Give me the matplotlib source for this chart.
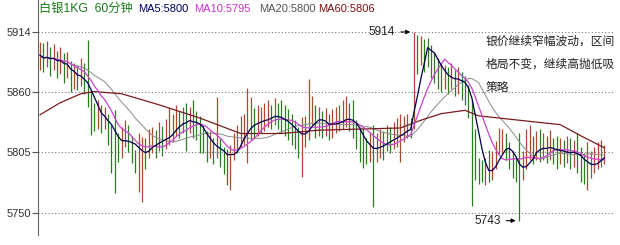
import numpy as np
import pandas as pd
import matplotlib
matplotlib.use("Agg")
import matplotlib.pyplot as plt

plt.rcParams['font.family'] = ['Liberation Sans', 'Noto Sans CJK SC', 'DejaVu Sans']

# 60分钟K线 (收盘/最高/最低)，开盘取前一根收盘
close = [5893, 5888, 5892, 5887, 5890, 5884, 5887, 5880, 5883, 5868,
         5874, 5870, 5876, 5868, 5852, 5843, 5835, 5840, 5834, 5836,
         5823, 5818, 5812, 5807, 5818, 5822, 5816, 5806, 5800, 5803,
         5808, 5806, 5813, 5816, 5813, 5818, 5815, 5821, 5824, 5826,
         5838, 5831, 5834, 5830, 5836, 5832, 5829, 5826, 5815, 5808,
         5812, 5807, 5811, 5804, 5798, 5795, 5806, 5812, 5816, 5824,
         5828, 5830, 5835, 5830, 5832, 5835, 5836, 5839, 5837, 5840,
         5835, 5832, 5830, 5828, 5826, 5820, 5816, 5818, 5828, 5838,
         5842, 5830, 5833, 5829, 5832, 5828, 5831, 5833, 5834, 5836,
         5839, 5833, 5828, 5822, 5813, 5809, 5806, 5810, 5806, 5811,
         5814, 5813, 5818, 5816, 5820, 5822, 5824, 5826, 5829, 5827,
         5902, 5896, 5904, 5900, 5897, 5890, 5884, 5876, 5872, 5874,
         5870, 5873, 5869, 5871, 5866, 5862, 5850, 5822, 5795, 5788,
         5784, 5789, 5786, 5795, 5806, 5812, 5815, 5810, 5800, 5792,
         5788, 5782, 5795, 5803, 5808, 5806, 5811, 5808, 5810, 5807,
         5811, 5806, 5803, 5806, 5804, 5807, 5803, 5805, 5800, 5796,
         5790, 5791, 5794, 5798, 5801, 5803, 5804]
high = [5905, 5904, 5906, 5900, 5903, 5897, 5900, 5895, 5896, 5888,
        5886, 5884, 5890, 5886, 5907, 5861, 5850, 5852, 5848, 5846,
        5840, 5830, 5843, 5822, 5828, 5834, 5830, 5820, 5807, 5822,
        5819, 5818, 5826, 5828, 5825, 5832, 5829, 5835, 5845, 5840,
        5848, 5842, 5846, 5850, 5846, 5852, 5842, 5838, 5830, 5824,
        5824, 5818, 5855, 5818, 5810, 5808, 5812, 5822, 5830, 5838,
        5840, 5863, 5855, 5845, 5848, 5846, 5850, 5852, 5848, 5854,
        5850, 5852, 5848, 5844, 5840, 5834, 5828, 5837, 5838, 5871,
        5856, 5848, 5846, 5842, 5845, 5840, 5844, 5846, 5848, 5852,
        5856, 5850, 5852, 5834, 5828, 5828, 5818, 5822, 5830, 5822,
        5826, 5824, 5830, 5828, 5832, 5836, 5840, 5838, 5840, 5836,
        5914, 5911, 5910, 5908, 5909, 5902, 5896, 5890, 5886, 5884,
        5882, 5886, 5880, 5882, 5878, 5874, 5866, 5852, 5826, 5800,
        5798, 5800, 5807, 5806, 5815, 5827, 5826, 5822, 5814, 5806,
        5800, 5822, 5806, 5826, 5830, 5820, 5824, 5826, 5822, 5820,
        5825, 5818, 5820, 5818, 5816, 5820, 5818, 5816, 5822, 5810,
        5804, 5814, 5806, 5810, 5814, 5816, 5812]
low = [5880, 5878, 5882, 5874, 5880, 5872, 5876, 5868, 5872, 5860,
       5862, 5861, 5865, 5858, 5846, 5821, 5824, 5826, 5822, 5826,
       5812, 5786, 5768, 5796, 5800, 5810, 5805, 5795, 5786, 5769,
       5760, 5790, 5800, 5804, 5800, 5806, 5802, 5808, 5812, 5814,
       5820, 5818, 5822, 5806, 5822, 5818, 5816, 5804, 5804, 5796,
       5800, 5794, 5800, 5792, 5785, 5775, 5771, 5798, 5804, 5810,
       5812, 5795, 5816, 5818, 5820, 5822, 5824, 5828, 5826, 5830,
       5826, 5822, 5820, 5816, 5812, 5808, 5800, 5783, 5810, 5816,
       5830, 5818, 5820, 5818, 5820, 5816, 5818, 5822, 5824, 5826,
       5828, 5824, 5818, 5808, 5796, 5791, 5794, 5796, 5755, 5796,
       5800, 5798, 5806, 5804, 5808, 5810, 5796, 5814, 5818, 5818,
       5826, 5876, 5884, 5878, 5882, 5872, 5868, 5862, 5860, 5862,
       5858, 5862, 5856, 5858, 5852, 5848, 5836, 5756, 5780, 5776,
       5778, 5775, 5778, 5780, 5790, 5803, 5804, 5798, 5790, 5782,
       5778, 5743, 5780, 5790, 5798, 5794, 5798, 5796, 5798, 5795,
       5798, 5794, 5790, 5794, 5792, 5795, 5790, 5792, 5786, 5778,
       5776, 5771, 5782, 5786, 5790, 5792, 5794]

# MA60 读图取点 (K线序号, 数值)
ma60_idx = [0, 6, 12, 16, 24, 35, 47, 59, 71, 82, 94, 106, 112, 118, 125, 129, 141, 153, 159, 166]
ma60_val = [5839, 5850, 5858, 5860, 5858, 5848, 5836, 5822, 5822, 5825, 5826, 5827, 5834, 5840, 5843, 5838, 5834, 5830, 5820, 5809]

yticks = [5750, 5805, 5860, 5914]

df = pd.DataFrame({"close": close, "high": high, "low": low})
df["open"] = df["close"].shift(1).fillna(5890)
ma5 = df["close"].rolling(5, min_periods=1).mean()
ma10 = df["close"].rolling(10, min_periods=1).mean()
ma20 = df["close"].rolling(20, min_periods=1).mean()
x = np.arange(len(df))

fig = plt.figure(figsize=(6.2, 2.45), dpi=100)
ax = fig.add_axes([38 / 620, 10 / 245, 577 / 620, 235 / 245])

colors = np.where(df["close"] >= df["open"], "#a84a34", "#2e7a22")
ax.vlines(x, df["low"], df["high"], colors=colors, linewidth=0.9, zorder=2)

ax.plot(x, ma20, color="#8a8a8a", lw=0.7, zorder=3)
ax.plot(ma60_idx, ma60_val, color="#7a1c1c", lw=0.9, zorder=3)
ax.plot(x, ma10, color="#cc44cc", lw=0.9, zorder=4)
ax.plot(x, ma5, color="#000050", lw=0.9, zorder=5)

ax.set_xlim(-0.6, 169.1)
ax.set_ylim(5730, 5943)
ax.set_yticks(yticks)
ax.set_xticks([])
ax.tick_params(axis="y", direction="out", length=4, width=0.8, colors="#555555",
               labelcolor="#333333", labelsize=8, pad=1)
for s in ["top", "right", "bottom"]:
    ax.spines[s].set_visible(False)
ax.spines["left"].set_color("#666666")
for v in yticks:
    ax.axhline(v, color="#777777", lw=0.8, ls=(0, (1, 2)), zorder=1)

# 顶部标题
hy = 0.963
ax.text(0.002, hy, "白银1KG  60分钟", color="#1a7a1a", fontsize=8.8, transform=ax.transAxes, va="center")
ax.text(0.173, hy, "MA5:5800", color="#000066", fontsize=8, transform=ax.transAxes, va="center")
ax.text(0.270, hy, "MA10:5795", color="#cc33cc", fontsize=8, transform=ax.transAxes, va="center")
ax.text(0.383, hy, "MA20:5800", color="#555555", fontsize=8, transform=ax.transAxes, va="center")
ax.text(0.486, hy, "MA60:5806", color="#801010", fontsize=8, transform=ax.transAxes, va="center")

# 注释
ax.text(0.775, 0.725, "银价继续窄幅波动，区间\n格局不变，继续高抛低吸\n策略", color="#222222",
        fontsize=8.5, transform=ax.transAxes, va="center", linespacing=2.25)

imax = int(np.argmax(high))
imin = int(np.argmin(low))
ax.annotate(str(max(high)), xy=(imax - 0.3, max(high)), xytext=(imax - 5.5, max(high)),
            ha="right", va="center", fontsize=8.5, color="#222222",
            arrowprops=dict(arrowstyle="-|>", color="black", lw=0.8, mutation_scale=6))
ax.annotate(str(min(low)), xy=(imin - 0.3, min(low)), xytext=(imin - 5.5, min(low)),
            ha="right", va="center", fontsize=8.5, color="#222222",
            arrowprops=dict(arrowstyle="-|>", color="black", lw=0.8, mutation_scale=6))

fig.savefig("out.png", dpi=100)
